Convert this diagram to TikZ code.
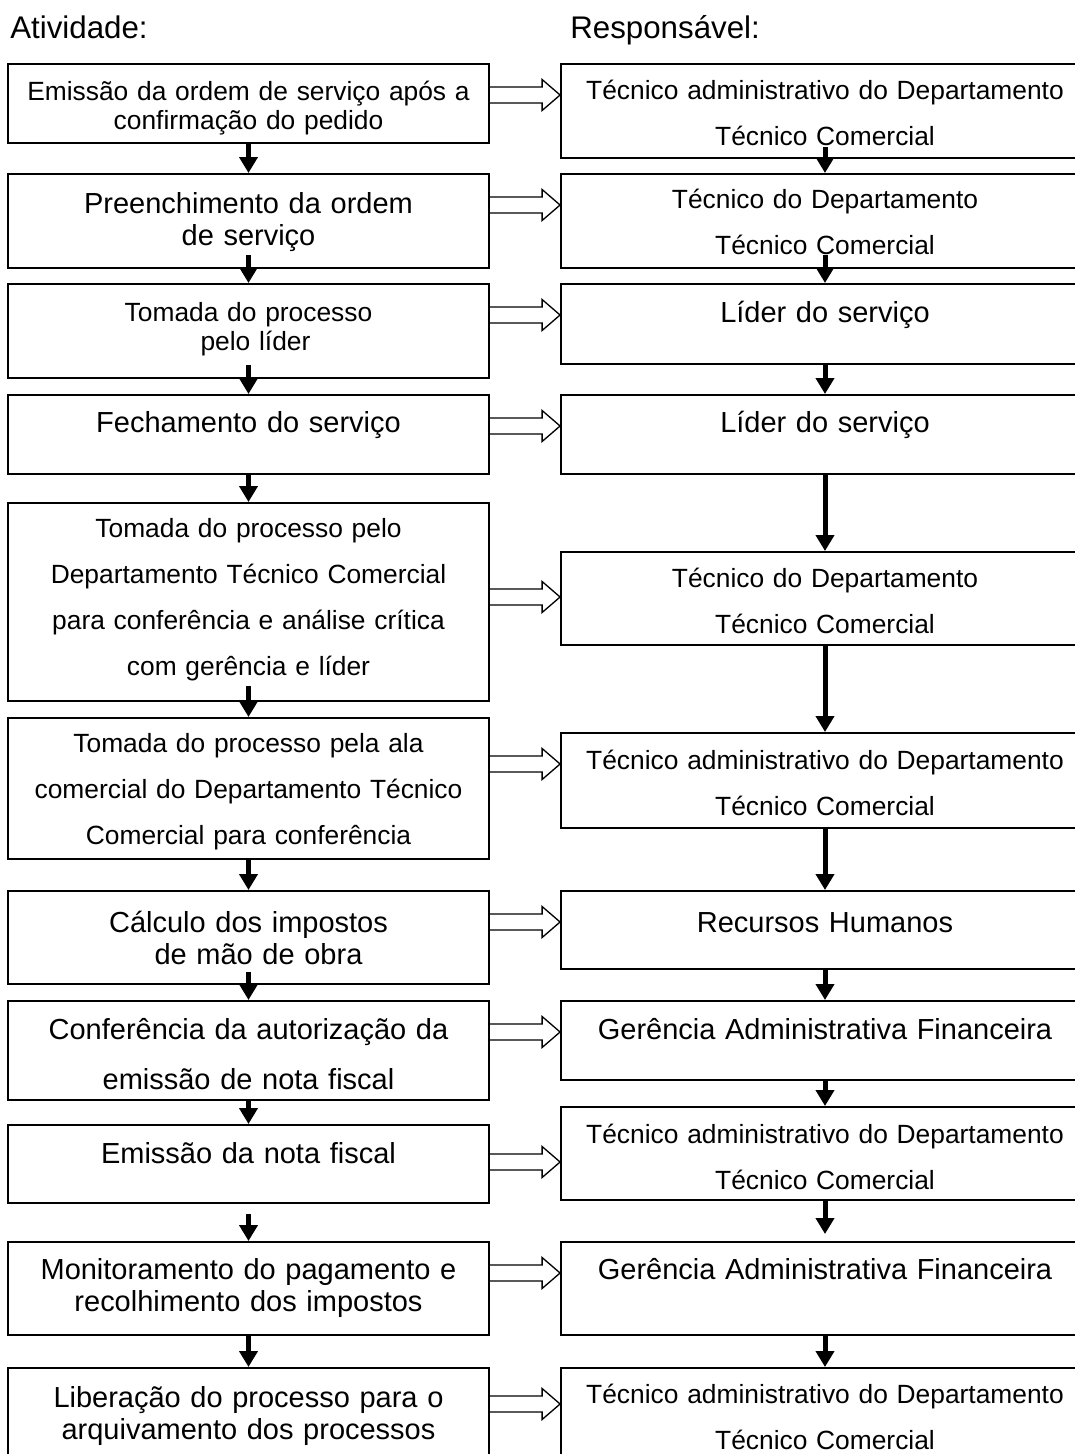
\documentclass[tikz,border=0pt]{standalone}
\usepackage{fontspec}
\setmainfont{Liberation Sans}
\usetikzlibrary{arrows.meta,calc}

\begin{document}
\begin{tikzpicture}[x=0.02cm, y=-0.02cm, >={Triangle[width=0.36cm,length=0.32cm]},
	caixa/.style={draw, line width=1.1pt, inner sep=0pt, align=center, anchor=north},
	esq/.style={caixa, text width=9.62cm},
	dir/.style={caixa, text width=10.56cm},
	pq/.style={font=\fontsize{15}{16}\selectfont},
	pqd/.style={font=\fontsize{15}{26}\selectfont},
	gr/.style={font=\fontsize{16.5}{18.2}\selectfont},
	grd/.style={font=\fontsize{16.5}{28.3}\selectfont},
	titulo/.style={anchor=base west, inner sep=0pt, font=\fontsize{17.8}{20}\selectfont},
	seta/.style={->, line width=0.1cm},
	vazada/.style={line width=0.75pt}]
	
	% Área visível da figura
	\useasboundingbox (0,0) rectangle (1075,1454);
	\clip (0,0) rectangle (1075,1454);
	
	% Títulos das colunas
	\node[titulo] (tatv) at (10,38) {Atividade:};
	\node[titulo] (tresp) at (570,38) {Responsável:};
	
	% Coluna das atividades
	\node[esq, pq, text height=0.74cm, text depth=0.84cm] (a1) at (248.5,63) {Emissão da ordem de serviço após a\\confirmação do pedido};
	\node[esq, gr, text height=0.80cm, text depth=1.08cm] (a2) at (248.5,173) {Preenchimento da ordem\\de serviço};
	\node[esq, pq, text height=0.76cm, text depth=1.12cm] (a3) at (248.5,283) {Tomada do processo\\\hspace*{0.28cm}pelo líder};
	\node[esq, gr, text height=0.76cm, text depth=0.82cm] (a4) at (248.5,394) {Fechamento do serviço};
	\node[esq, pqd, text height=0.70cm, text depth=3.26cm] (a5) at (248.5,502) {Tomada do processo pelo\\Departamento Técnico Comercial\\para conferência e análise crítica\\com gerência e líder};
	\node[esq, pqd, text height=0.70cm, text depth=2.12cm] (a6) at (248.5,717) {Tomada do processo pela ala\\comercial do Departamento Técnico\\Comercial para conferência};
	\node[esq, gr, text height=0.84cm, text depth=1.02cm] (a7) at (248.5,890) {Cálculo dos impostos\\\hspace*{0.4cm}de mão de obra};
	\node[esq, grd, text height=0.78cm, text depth=1.20cm] (a8) at (248.5,1000) {Conferência da autorização da\\emissão de nota fiscal};
	\node[esq, gr, text height=0.78cm, text depth=0.78cm] (a9) at (248.5,1124) {Emissão da nota fiscal};
	\node[esq, gr, text height=0.76cm, text depth=1.10cm] (a10) at (248.5,1241) {Monitoramento do pagamento e\\recolhimento dos impostos};
	\node[esq, gr, text height=0.80cm, text depth=1.46cm] (a11) at (248.5,1367) {Liberação do processo para o\\arquivamento dos processos};
	
	% Coluna dos responsáveis
	\node[dir, pqd, text height=0.72cm, text depth=1.16cm] (b1) at (825,63) {Técnico administrativo do Departamento\\Técnico Comercial};
	\node[dir, pqd, text height=0.70cm, text depth=1.18cm] (b2) at (825,173) {Técnico do Departamento\\Técnico Comercial};
	\node[dir, gr, text height=0.78cm, text depth=0.82cm] (b3) at (825,283) {Líder do serviço};
	\node[dir, gr, text height=0.76cm, text depth=0.82cm] (b4) at (825,394) {Líder do serviço};
	\node[dir, pqd, text height=0.72cm, text depth=1.14cm] (b5) at (825,551) {Técnico do Departamento\\Técnico Comercial};
	\node[dir, pqd, text height=0.74cm, text depth=1.16cm] (b6) at (825,732) {Técnico administrativo do Departamento\\Técnico Comercial};
	\node[dir, gr, text height=0.84cm, text depth=0.72cm] (b7) at (825,890) {Recursos Humanos};
	\node[dir, gr, text height=0.78cm, text depth=0.80cm] (b8) at (825,1000) {Gerência Administrativa Financeira};
	\node[dir, pqd, text height=0.74cm, text depth=1.12cm] (b9) at (825,1106) {Técnico administrativo do Departamento\\Técnico Comercial};
	\node[dir, gr, text height=0.76cm, text depth=1.10cm] (b10) at (825,1241) {Gerência Administrativa Financeira};
	\node[dir, pqd, text height=0.72cm, text depth=1.54cm] (b11) at (825,1367) {Técnico administrativo do Departamento\\Técnico Comercial};
	
	% Setas verticais entre as etapas (yshift: início dentro da caixa)
	\foreach \a/\b/\s/\e in {a1/a2/0/0, a2/a3/0.28/0, a3/a4/0.28/0, a4/a5/0/0, a5/a6/0.32/0,
		a6/a7/0/0, a7/a8/0.26/0, a8/a9/0/0, a9/a10/-0.2/0, a10/a11/0/0,
		b1/b2/0.24/0, b2/b3/0.28/0, b3/b4/0/0, b4/b5/0/0, b5/b6/0/0,
		b6/b7/0/0, b7/b8/0/0, b8/b9/0/0, b9/b10/0/0.14, b10/b11/0/0} {
		\draw[seta, shorten >=\e cm] ([yshift=\s cm]\a.south) -- (\b.north);
	}
	
	% Setas vazadas da atividade para o responsável
	\foreach \a/\b/\y in {a1/b1/95, a2/b2/205, a3/b3/315, a4/b4/426, a5/b5/597, a6/b6/764,
		a7/b7/922, a8/b8/1032, a9/b9/1162, a10/b10/1273, a11/b11/1404} {
		\path (0,\y) coordinate (h);
		\draw[vazada] ($(\a.east |- h)+(0,-8)$) -- ($(\b.west |- h)+(-18,-8)$) -- ++(0,-7.5)
			-- (\b.west |- h) -- ++(-18,15.5) -- ++(0,-7.5) -- ($(\a.east |- h)+(0,8)$);
	}
	
\end{tikzpicture}
\end{document}
